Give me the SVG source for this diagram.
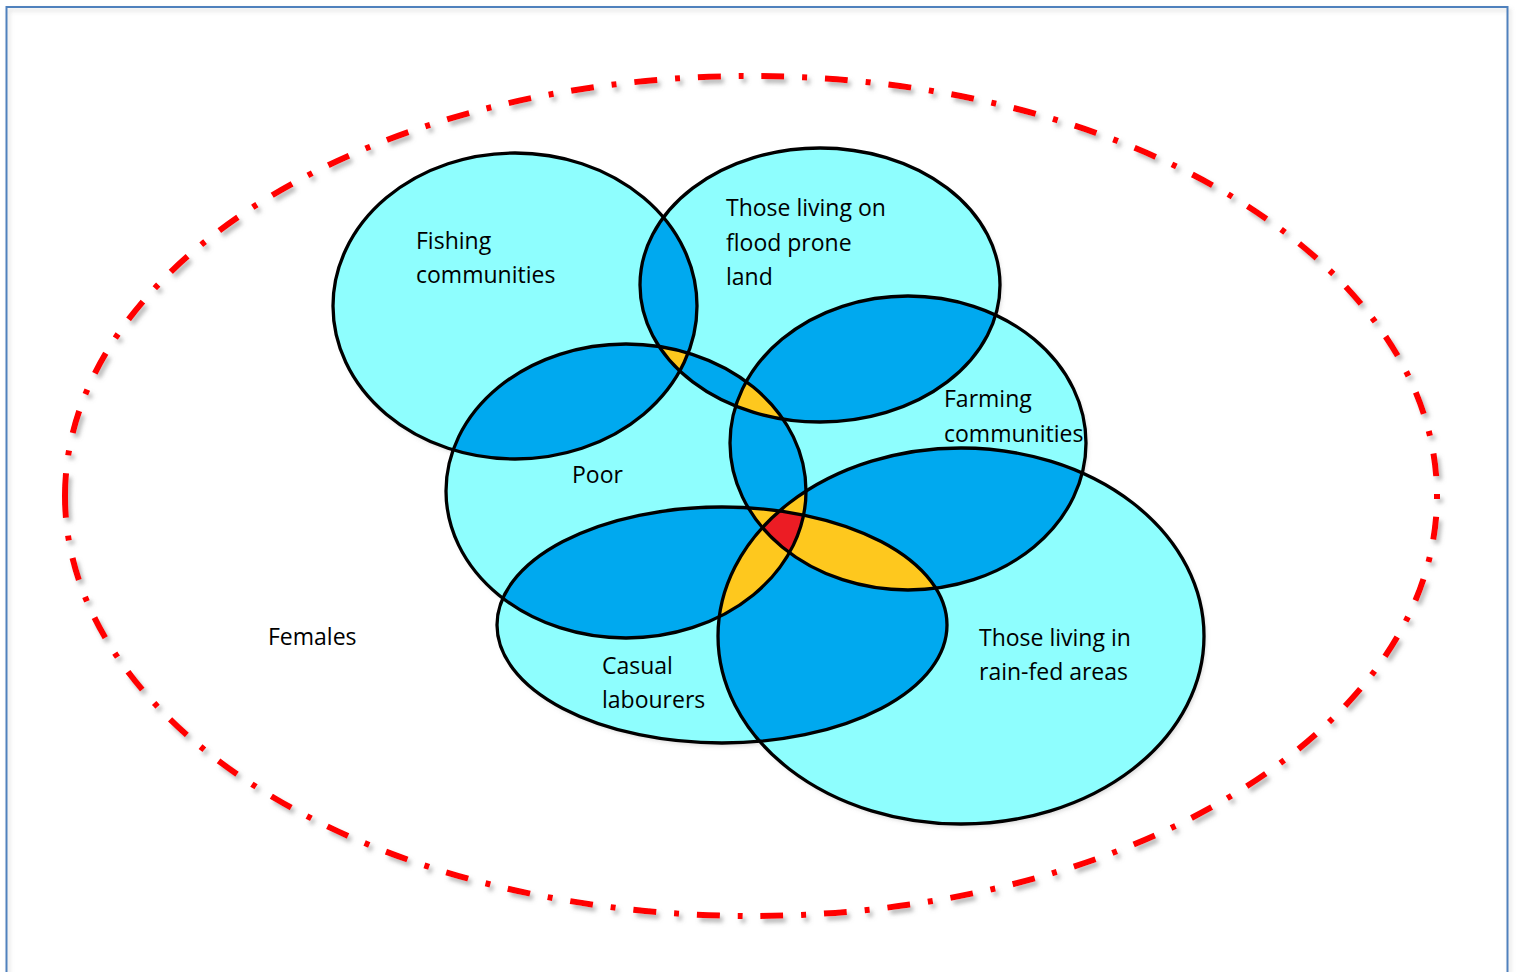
<svg xmlns="http://www.w3.org/2000/svg" width="1516" height="972" viewBox="0 0 1516 972">
  <defs>
    <style>
      .base { fill: #8EFEFE; stroke: none; }
      .outline { fill: none; stroke: #000; stroke-width: 3.3; }
      .lbl { font-family: "Open Sans", "Noto Sans", "Liberation Sans", sans-serif; font-size: 23px; fill: #000; }
      .two { fill: #00A9EF; }
      .three { fill: #FEC81E; }
      .four { fill: #EC1C24; }
    </style>
    <filter id="shadow" x="-5%" y="-5%" width="110%" height="110%">
      <feDropShadow dx="3" dy="4" stdDeviation="2" flood-color="#808080" flood-opacity="0.55"/>
    </filter>
    <filter id="soft" x="-5%" y="-5%" width="110%" height="110%">
      <feDropShadow dx="2" dy="3" stdDeviation="2" flood-color="#909090" flood-opacity="0.35"/>
    </filter>
    <clipPath id="cFish"><ellipse cx="515" cy="306" rx="182" ry="153"/></clipPath>
    <clipPath id="cFlood"><ellipse cx="820" cy="285" rx="180" ry="137"/></clipPath>
    <clipPath id="cPoor"><ellipse cx="626" cy="491" rx="180" ry="147"/></clipPath>
    <clipPath id="cFarm"><ellipse cx="908" cy="443" rx="178" ry="147"/></clipPath>
    <clipPath id="cCasual"><ellipse cx="722" cy="625" rx="225" ry="118"/></clipPath>
    <clipPath id="cRain"><ellipse cx="961" cy="636" rx="243" ry="188"/></clipPath>
  </defs>

  <rect x="0" y="0" width="1516" height="972" fill="#fff"/>
  <rect id="frame" x="6.5" y="7" width="1501" height="1000" fill="none" stroke="#4F81BD" stroke-width="2" filter="url(#soft)"/>

  <g id="females">
    <path d="M 65 496 A 686 420 0 1 1 1437 496 A 686 420 0 1 1 65 496 Z" pathLength="3542" fill="none" stroke="#FF0000" stroke-width="6" stroke-dasharray="23 18 5 18" filter="url(#shadow)"/>
    <text class="lbl" x="268" y="645">Females</text>
  </g>

  <g id="base-fills" filter="url(#soft)">
    <ellipse class="base" cx="515" cy="306" rx="182" ry="153"/>
    <ellipse class="base" cx="820" cy="285" rx="180" ry="137"/>
    <ellipse class="base" cx="626" cy="491" rx="180" ry="147"/>
    <ellipse class="base" cx="908" cy="443" rx="178" ry="147"/>
    <ellipse class="base" cx="722" cy="625" rx="225" ry="118"/>
    <ellipse class="base" cx="961" cy="636" rx="243" ry="188"/>
  </g>

  <g id="overlaps">
    <!-- pairwise -->
    <g clip-path="url(#cFish)"><g clip-path="url(#cFlood)"><rect class="two" width="1516" height="972"/></g></g>
    <g clip-path="url(#cFish)"><g clip-path="url(#cPoor)"><rect class="two" width="1516" height="972"/></g></g>
    <g clip-path="url(#cFlood)"><g clip-path="url(#cPoor)"><rect class="two" width="1516" height="972"/></g></g>
    <g clip-path="url(#cFlood)"><g clip-path="url(#cFarm)"><rect class="two" width="1516" height="972"/></g></g>
    <g clip-path="url(#cPoor)"><g clip-path="url(#cFarm)"><rect class="two" width="1516" height="972"/></g></g>
    <g clip-path="url(#cPoor)"><g clip-path="url(#cCasual)"><rect class="two" width="1516" height="972"/></g></g>
    <g clip-path="url(#cPoor)"><g clip-path="url(#cRain)"><rect class="two" width="1516" height="972"/></g></g>
    <g clip-path="url(#cFarm)"><g clip-path="url(#cCasual)"><rect class="two" width="1516" height="972"/></g></g>
    <g clip-path="url(#cFarm)"><g clip-path="url(#cRain)"><rect class="two" width="1516" height="972"/></g></g>
    <g clip-path="url(#cCasual)"><g clip-path="url(#cRain)"><rect class="two" width="1516" height="972"/></g></g>
    <!-- triples -->
    <g clip-path="url(#cFish)"><g clip-path="url(#cFlood)"><g clip-path="url(#cPoor)"><rect class="three" width="1516" height="972"/></g></g></g>
    <g clip-path="url(#cFlood)"><g clip-path="url(#cPoor)"><g clip-path="url(#cFarm)"><rect class="three" width="1516" height="972"/></g></g></g>
    <g clip-path="url(#cPoor)"><g clip-path="url(#cFarm)"><g clip-path="url(#cCasual)"><rect class="three" width="1516" height="972"/></g></g></g>
    <g clip-path="url(#cPoor)"><g clip-path="url(#cFarm)"><g clip-path="url(#cRain)"><rect class="three" width="1516" height="972"/></g></g></g>
    <g clip-path="url(#cPoor)"><g clip-path="url(#cCasual)"><g clip-path="url(#cRain)"><rect class="three" width="1516" height="972"/></g></g></g>
    <g clip-path="url(#cFarm)"><g clip-path="url(#cCasual)"><g clip-path="url(#cRain)"><rect class="three" width="1516" height="972"/></g></g></g>
    <!-- quadruple -->
    <g clip-path="url(#cPoor)"><g clip-path="url(#cFarm)"><g clip-path="url(#cCasual)"><g clip-path="url(#cRain)"><rect class="four" width="1516" height="972"/></g></g></g></g>
  </g>

  <g id="fishing">
    <ellipse class="outline" cx="515" cy="306" rx="182" ry="153"/>
    <text class="lbl" x="416" y="249">Fishing</text>
    <text class="lbl" x="416" y="283">communities</text>
  </g>
  <g id="flood">
    <ellipse class="outline" cx="820" cy="285" rx="180" ry="137"/>
    <text class="lbl" x="726" y="216">Those living on</text>
    <text class="lbl" x="726" y="251">flood prone</text>
    <text class="lbl" x="726" y="285">land</text>
  </g>
  <g id="poor">
    <ellipse class="outline" cx="626" cy="491" rx="180" ry="147"/>
    <text class="lbl" x="572" y="483">Poor</text>
  </g>
  <g id="farming">
    <ellipse class="outline" cx="908" cy="443" rx="178" ry="147"/>
    <text class="lbl" x="944" y="407">Farming</text>
    <text class="lbl" x="944" y="442">communities</text>
  </g>
  <g id="casual">
    <ellipse class="outline" cx="722" cy="625" rx="225" ry="118"/>
    <text class="lbl" x="602" y="674">Casual</text>
    <text class="lbl" x="602" y="708">labourers</text>
  </g>
  <g id="rainfed">
    <ellipse class="outline" cx="961" cy="636" rx="243" ry="188"/>
    <text class="lbl" x="979" y="646">Those living in</text>
    <text class="lbl" x="979" y="680">rain-fed areas</text>
  </g>
</svg>
